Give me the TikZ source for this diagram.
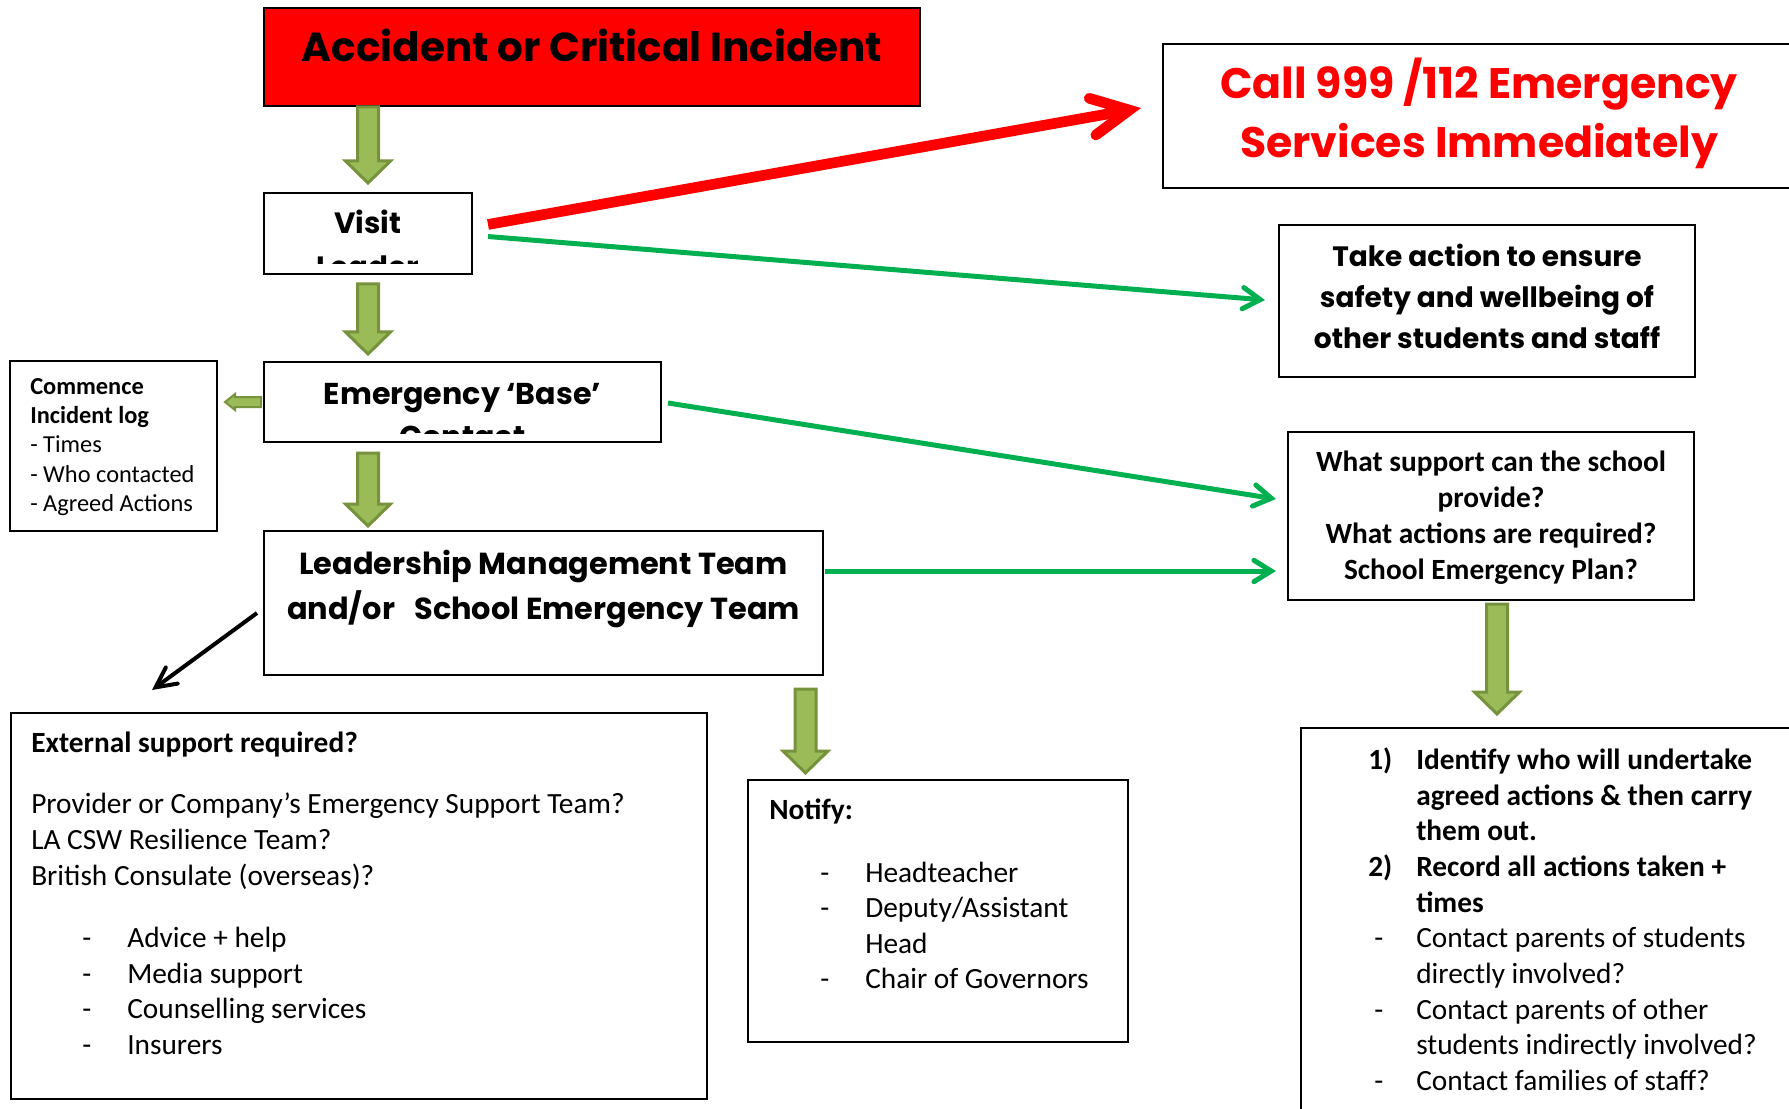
\documentclass[tikz,border=0pt]{standalone}
\usepackage{fontspec}
\setmainfont{Carlito}
\newfontfamily\gothic{Poppins}
\usetikzlibrary{positioning,calc,fit,arrows.meta}

\definecolor{alarmred}{HTML}{FF0000}
\definecolor{okgreen}{HTML}{00B050}
\definecolor{olivefill}{HTML}{9BBB59}
\definecolor{olivedraw}{HTML}{76923C}

\begin{document}
\begin{tikzpicture}[
    x=0.75pt, y=-0.75pt,
    box/.style={draw=black, line width=1.5pt, inner sep=0pt},
    gothtext/.style={font=\gothic\bfseries\fontsize{#1}{#1}\selectfont, anchor=base, inner sep=0pt, yshift=-1.5pt},
    caltext/.style={font=\fontsize{22pt}{26pt}\selectfont, anchor=base west, inner sep=0pt, yshift=-2.5pt},
    logtext/.style={font=\fontsize{18.3pt}{22pt}\selectfont, anchor=base west, inner sep=0pt, yshift=-2.5pt},
    redline/.style={alarmred, line width=8pt, -{Straight Barb[length=28pt,width=28pt,line cap=round]}},
    greenline/.style={okgreen, line width=3.75pt, -{Straight Barb[length=13pt,width=16pt,line cap=round]}},
    blackline/.style={black, line width=3pt, -{Straight Barb[length=15pt,width=15pt,line cap=round]}},
    fat/.style={draw=olivedraw, fill=olivefill, line width=2.25pt}
    ]
    \clip (0,0) rectangle (1789,1109);

    % boxes
    \node[box, fill=alarmred, fit={(264,8) (920,106)}] (title) {};
    \node[box, fit={(264,193) (472,274)}] (visit) {};
    \node[box, fit={(264,362) (661,442)}] (base) {};
    \node[box, fit={(10,361) (217,531)}] (log) {};
    \node[box, fit={(264,531) (823,675)}] (team) {};
    \node[box, fit={(1163,44) (1800,188)}] (call) {};
    \node[box, fit={(1279,225) (1695,377)}] (safety) {};
    \node[box, fit={(1288,432) (1694,600)}] (support) {};
    \node[box, fit={(11,713) (707,1099)}] (external) {};
    \node[box, fit={(748,780) (1128,1042)}] (notify) {};
    \node[box, fit={(1301,728) (1800,1130)}] (actions) {};

    \node[gothtext=30.4pt, yshift=1pt] (titletxt) at ($(title.north)+(0,54)$) {Accident or Critical Incident};

    \begin{scope}
        \clip (visit.north west) rectangle ($(visit.east)+(0,30)$);
        \node[gothtext=22pt, yshift=1.5pt] (visittxt) at ($(visit.north)+(0,42)$) {Visit};
        \node[gothtext=22pt, yshift=1.5pt] (leadertxt) at ($(visit.north)+(0,86)$) {Leader};
    \end{scope}
    \begin{scope}
        \clip (base.north west) rectangle ($(base.east)+(0,31)$);
        \node[gothtext=22.6pt] (basetxt) at ($(base.north)+(0,41)$) {Emergency ‘Base’};
        \node[gothtext=22.6pt] (contacttxt) at ($(base.north)+(0,84)$) {Contact};
    \end{scope}

    \node[gothtext=22.8pt] (team0) at ($(team.north)+(0,42)$) {Leadership Management Team};
    \node[gothtext=22.8pt] (team1) at ($(team.north)+(0,87)$) {and/or\ \ \ School Emergency Team};

    \node[gothtext=32pt, text=alarmred] (call0) at ($(call.north west)+(317,54)$) {Call 999 /112 Emergency};
    \node[gothtext=32pt, text=alarmred] (call1) at ($(call.north west)+(317,113)$) {Services Immediately};

    \foreach \t [count=\i from 0] in {Take action to ensure, safety and wellbeing of, other students and staff}
        \node[gothtext=21pt] (safety\i) at ($(safety.north)+(0,41+41*\i)$) {\t};

    \foreach \t [count=\i from 0] in {What support can the school, provide?, What actions are required?, School Emergency Plan?}
        \node[caltext, anchor=base] (support\i) at ($(support.north)+(0,37+36.2*\i)$) {\bfseries\t};

    \foreach \t [count=\i from 0] in {\textbf{Commence}, \textbf{Incident log}, - Times, - Who contacted, - Agreed Actions}
        \node[logtext] (log\i) at ($(log.north west)+(21,31+29.3*\i)$) {\t};

    \node[caltext] (exthead) at ($(external.north west)+(21,37)$) {\textbf{External support required?}};
    \foreach \t [count=\i from 0] in {Provider or Company’s Emergency Support Team?, LA CSW Resilience Team?, British Consulate (overseas)?}
        \node[caltext] (ext\i) at ($(external.north west)+(21,98+36*\i)$) {\t};
    \foreach \t [count=\i from 0] in {Advice + help, Media support, Counselling services, Insurers}{
        \node[caltext] (extdash\i) at ($(external.north west)+(72,232+35.7*\i)$) {-};
        \node[caltext] (extitem\i) at ($(external.north west)+(117,232+35.7*\i)$) {\t};
    }

    \node[caltext] (notifyhead) at ($(notify.north west)+(22,37)$) {\textbf{Notify:}};
    \foreach \m/\t [count=\i from 0] in {-/Headteacher, -/{Deputy/Assistant}, /Head, -/Chair of Governors}{
        \node[caltext] (notifydash\i) at ($(notify.north west)+(73,100+35.5*\i)$) {\m};
        \node[caltext] (notify\i) at ($(notify.north west)+(118,100+35.5*\i)$) {\t};
    }

    \foreach \m/\t [count=\i from 0] in {1)/Identify who will undertake, /agreed actions \& then carry, /them out.,
        2)/Record all actions taken +, /times, \hspace{4.5pt}-/Contact parents of students, /directly involved?,
        \hspace{4.5pt}-/Contact parents of other, /students indirectly involved?, \hspace{4.5pt}-/Contact families of staff?}{
        \ifnum\i<5 \def\wt{\bfseries}\else\def\wt{}\fi
        \node[caltext] (actnum\i) at ($(actions.north west)+(68,39+35.7*\i)$) {\wt\m};
        \node[caltext] (act\i) at ($(actions.north west)+(116,39+35.7*\i)$) {\wt\t};
    }

    % thin connectors
    \draw[redline] ($(visit.east)+(15,-9)$) -- ($(call.west)+(-21,-8)$);
    \draw[greenline] ($(visit.east)+(15,3)$) -- ($(safety.west)+(-13,-1)$);
    \draw[greenline] ($(base.east)+(6,1)$) -- ($(support.west)+(-11,-17)$);
    \draw[greenline] ($(team.east)+(1,-32)$) -- ($(support.west)+(-11,55)$);
    \draw[blackline] ($(team.west)+(-6,10)$) -- ($(external.north west)+(142,-22)$);

    % block arrows
    \coordinate (a1) at (title.south -| visit.north);
    \coordinate (b1) at ($(visit.north)+(0,-9)$);
    \coordinate (a2) at ($(visit.south)+(0,9)$);
    \coordinate (b2) at ($(base.north -| visit.north)+(0,-7)$);
    \coordinate (a3) at ($(base.south -| visit.north)+(0,10)$);
    \coordinate (b3) at ($(team.north -| visit.north)+(0,-4)$);
    \coordinate (a4) at ($(team.south -| notify.north west)+(58.5,13)$);
    \coordinate (b4) at ($(notify.north west)+(58.5,-6)$);
    \coordinate (a5) at ($(support.south)+(6,3)$);
    \coordinate (b5) at ($(actions.north -| a5)+(0,-13)$);
    \foreach \s/\e in {a1/b1, a2/b2, a3/b3, a4/b4, a5/b5}
        \draw[fat] let \p1=(\s), \p2=(\e) in
            (\x1-7.875pt,\y1) -- (\x1-7.875pt,\y2+16.5pt) -- (\x1-16.875pt,\y2+16.5pt) -- (\x1,\y2)
            -- (\x1+16.875pt,\y2+16.5pt) -- (\x1+7.875pt,\y2+16.5pt) -- (\x1+7.875pt,\y1) -- cycle;

    \coordinate (a6) at ($(base.west)+(-2,0)$);
    \coordinate (b6) at ($(base.west)+(-38,0)$);
    \draw[fat, line width=1.5pt] let \p1=(a6), \p2=(b6) in
        (\x1,\y1+3.75pt) -- (\x2+7.5pt,\y1+3.75pt) -- (\x2+7.5pt,\y1+6pt) -- (\x2,\y1)
        -- (\x2+7.5pt,\y1-6pt) -- (\x2+7.5pt,\y1-3.75pt) -- (\x1,\y1-3.75pt) -- cycle;
\end{tikzpicture}
\end{document}
